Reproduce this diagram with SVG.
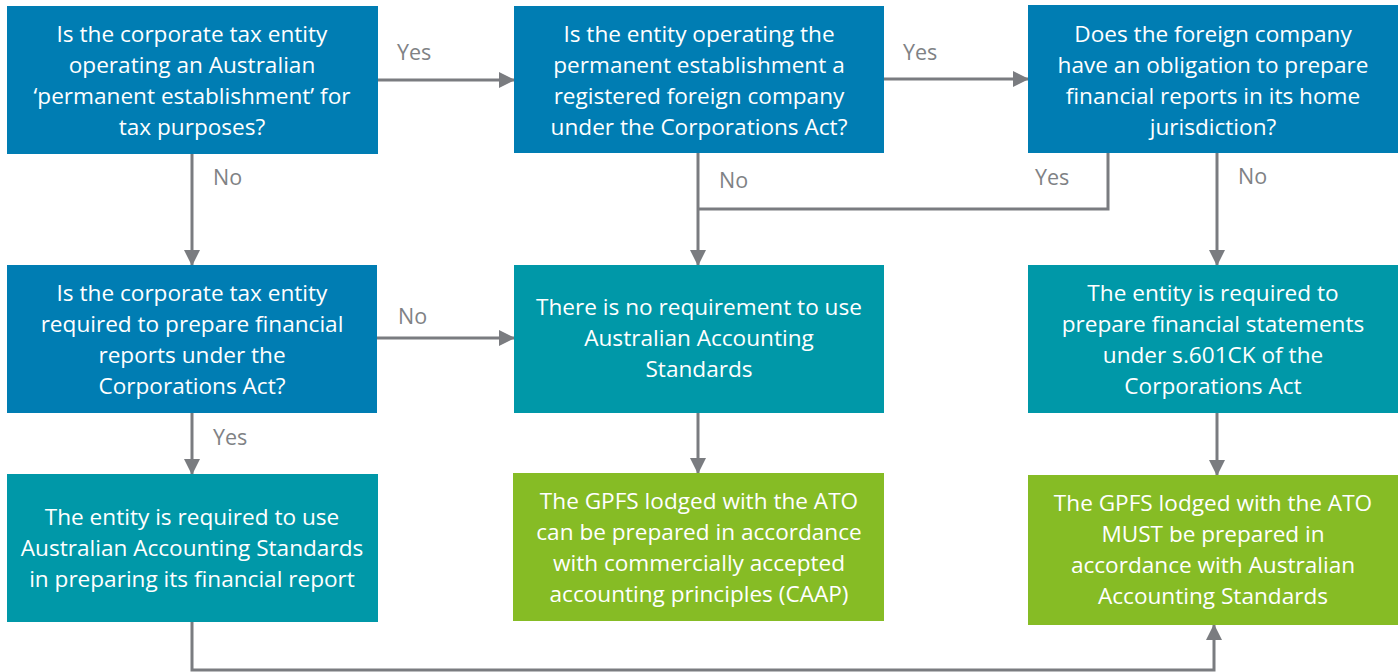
<svg xmlns="http://www.w3.org/2000/svg" width="1399" height="672" viewBox="0 0 1399 672">
<style>
.box text{font-family:"Open Sans","Noto Sans",sans-serif;font-size:22.6px;fill:#ffffff;text-anchor:middle}
.q{fill:#007db3}
.t{fill:#0098a8}
.g{fill:#86bc25}
.lbl{font-family:"Open Sans","Noto Sans",sans-serif;font-size:21.5px;fill:#808285}
.c{fill:none;stroke:#7a7c80;stroke-width:3}
</style>
<defs>
<marker id="ah" markerUnits="userSpaceOnUse" markerWidth="16" markerHeight="16" viewBox="0 0 16 16" refX="15" refY="8" orient="auto">
<path d="M0,0 L16,8 L0,16 Z" fill="#7a7c80"/>
</marker>
</defs>
<rect width="1399" height="672" fill="#ffffff"/>
<g id="connectors">
<path class="c" d="M378,80 H514" marker-end="url(#ah)"/>
<path class="c" d="M884,79 H1028" marker-end="url(#ah)"/>
<path class="c" d="M192,154 V265" marker-end="url(#ah)"/>
<path class="c" d="M698,153 V265" marker-end="url(#ah)"/>
<path class="c" d="M1108,153 V209 H698"/>
<path class="c" d="M1217,153 V265" marker-end="url(#ah)"/>
<path class="c" d="M377,338 H514" marker-end="url(#ah)"/>
<path class="c" d="M192,413 V474" marker-end="url(#ah)"/>
<path class="c" d="M698,413 V473" marker-end="url(#ah)"/>
<path class="c" d="M1217,413 V475" marker-end="url(#ah)"/>
<path class="c" d="M192,622 V670 H1214 V625" marker-end="url(#ah)"/>
<text class="lbl" x="397" y="60">Yes</text>
<text class="lbl" x="903" y="60">Yes</text>
<text class="lbl" x="213" y="185">No</text>
<text class="lbl" x="719" y="188">No</text>
<text class="lbl" x="1035" y="185">Yes</text>
<text class="lbl" x="1238" y="184">No</text>
<text class="lbl" x="398" y="324">No</text>
<text class="lbl" x="213" y="445">Yes</text>
</g>
<g id="nodeA" class="box">
<rect class="q" x="7" y="6" width="371" height="148"/>
<text x="192" y="42">Is the corporate tax entity</text>
<text x="192" y="73">operating an Australian</text>
<text x="192" y="104">‘permanent establishment’ for</text>
<text x="192" y="135">tax purposes?</text>
</g>
<g id="nodeB" class="box">
<rect class="q" x="514" y="6" width="370" height="147"/>
<text x="699" y="42">Is the entity operating the</text>
<text x="699" y="73">permanent establishment a</text>
<text x="699" y="104">registered foreign company</text>
<text x="699" y="135">under the Corporations Act?</text>
</g>
<g id="nodeC" class="box">
<rect class="q" x="1028" y="5" width="370" height="148"/>
<text x="1213" y="42">Does the foreign company</text>
<text x="1213" y="73">have an obligation to prepare</text>
<text x="1213" y="104">financial reports in its home</text>
<text x="1213" y="135">jurisdiction?</text>
</g>
<g id="nodeD" class="box">
<rect class="q" x="7" y="265" width="370" height="148"/>
<text x="192" y="301">Is the corporate tax entity</text>
<text x="192" y="332">required to prepare financial</text>
<text x="192" y="363">reports under the</text>
<text x="192" y="394">Corporations Act?</text>
</g>
<g id="nodeE" class="box">
<rect class="t" x="514" y="265" width="370" height="148"/>
<text x="699" y="315">There is no requirement to use</text>
<text x="699" y="346">Australian Accounting</text>
<text x="699" y="377">Standards</text>
</g>
<g id="nodeF" class="box">
<rect class="t" x="1028" y="265" width="370" height="148"/>
<text x="1213" y="301">The entity is required to</text>
<text x="1213" y="332">prepare financial statements</text>
<text x="1213" y="363">under s.601CK of the</text>
<text x="1213" y="394">Corporations Act</text>
</g>
<g id="nodeG" class="box">
<rect class="t" x="7" y="474" width="371" height="148"/>
<text x="192" y="525">The entity is required to use</text>
<text x="192" y="556">Australian Accounting Standards</text>
<text x="192" y="587">in preparing its financial report</text>
</g>
<g id="nodeH" class="box">
<rect class="g" x="513" y="473" width="371" height="148"/>
<text x="699" y="509">The GPFS lodged with the ATO</text>
<text x="699" y="540">can be prepared in accordance</text>
<text x="699" y="571">with commercially accepted</text>
<text x="699" y="602">accounting principles (CAAP)</text>
</g>
<g id="nodeI" class="box">
<rect class="g" x="1028" y="475" width="370" height="150"/>
<text x="1213" y="511">The GPFS lodged with the ATO</text>
<text x="1213" y="542">MUST be prepared in</text>
<text x="1213" y="573">accordance with Australian</text>
<text x="1213" y="604">Accounting Standards</text>
</g>
</svg>
